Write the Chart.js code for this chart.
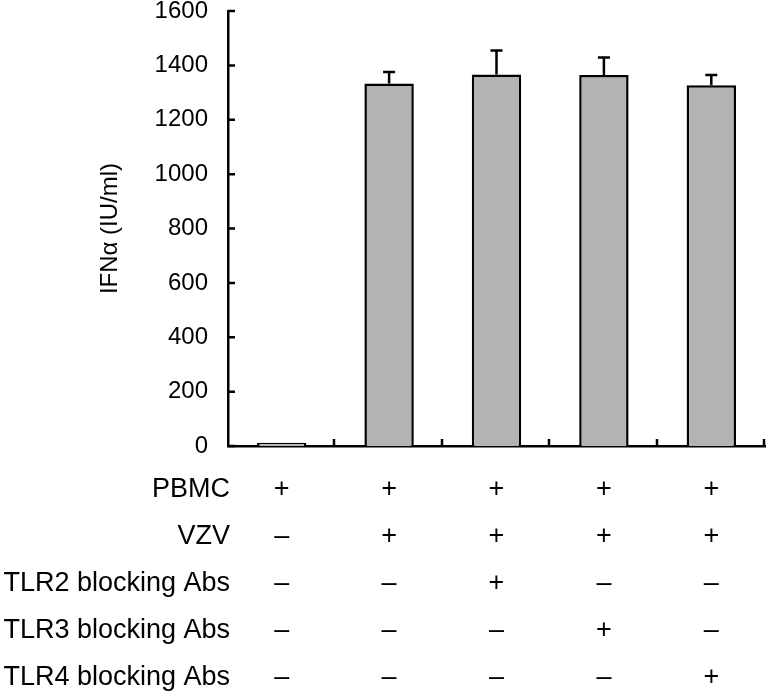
<!DOCTYPE html>
<html>
<head>
<meta charset="utf-8">
<script src="https://cdn.jsdelivr.net/npm/chart.js@4/dist/chart.umd.min.js"></script>
<style>
    body { margin: 0; background: #fff; }
    #wrap { width: 769px; height: 696px; position: relative; }
</style>
</head>
<body>
<div id="wrap"><canvas id="main_chart"></canvas></div>
<script>
// chart data
const groups = ["PBMC", "PBMC+VZV", "PBMC+VZV+TLR2 Abs", "PBMC+VZV+TLR3 Abs", "PBMC+VZV+TLR4 Abs"];
const ifnValues = [12, 1333, 1366, 1365, 1327];
const ifnErrors = [0, 43, 89, 64, 38];
const yTicks = [0, 200, 400, 600, 800, 1000, 1200, 1400, 1600];
// treatment table under the bars
const rowLabels = ["PBMC", "VZV", "TLR2 blocking Abs", "TLR3 blocking Abs", "TLR4 blocking Abs"];
const pbmcRow = ["+", "+", "+", "+", "+"];
const vzvRow = ["–", "+", "+", "+", "+"];
const tlr2Row = ["–", "–", "+", "–", "–"];
const tlr3Row = ["–", "–", "–", "+", "–"];
const tlr4Row = ["–", "–", "–", "–", "+"];
const rows = [pbmcRow, vzvRow, tlr2Row, tlr3Row, tlr4Row];

const FONT = "'Liberation Sans', Arial, sans-serif";
const rowH = 47;
const tablePad = 20;

// each category label is the column of +/– signs
const labels = groups.map((g, i) => rows.map(r => r[i]));

// error bars, inward ticks and row names
const extras = {
    id: "extras",
    afterDatasetsDraw(chart) {
        const ctx = chart.ctx;
        const x = chart.scales.x;
        const y = chart.scales.y;
        const meta = chart.getDatasetMeta(0);
        ctx.save();
        ctx.strokeStyle = "#000";
        ctx.lineWidth = 2.5;
        ctx.beginPath();
        meta.data.forEach((bar, i) => {
            if (!ifnErrors[i]) return;
            const top = y.getPixelForValue(ifnValues[i] + ifnErrors[i]);
            ctx.moveTo(bar.x, bar.y);
            ctx.lineTo(bar.x, top);
            ctx.moveTo(bar.x - 6, top);
            ctx.lineTo(bar.x + 6, top);
        });
        yTicks.forEach((v) => {
            const py = y.getPixelForValue(v);
            ctx.moveTo(x.left, py);
            ctx.lineTo(x.left + 7, py);
        });
        const w = (x.right - x.left) / groups.length;
        for (let i = 1; i <= groups.length; i++) {
            const px = Math.round(x.left + i * w) - 1;
            ctx.moveTo(px, y.bottom);
            ctx.lineTo(px, y.bottom - 7);
        }
        ctx.stroke();
        ctx.fillStyle = "#000";
        ctx.font = "27px " + FONT;
        ctx.textAlign = "right";
        ctx.textBaseline = "middle";
        rowLabels.forEach((t, i) => {
            ctx.fillText(t, x.left + 2, x.top + tablePad + rowH / 2 + i * rowH);
        });
        ctx.restore();
    }
};

let chart1 = new Chart(document.getElementById("main_chart"), {
    type: "bar",
    data: {
        labels: labels,
        datasets: [{
            data: ifnValues,
            backgroundColor: "#b3b3b3",
            borderColor: "#000",
            borderWidth: 2.5,
            barPercentage: 0.46,
            categoryPercentage: 1
        }]
    },
    options: {
        responsive: true,
        maintainAspectRatio: false,
        animation: false,
        layout: { padding: { top: 11, right: 4, left: 0, bottom: 0 } },
        plugins: {
            legend: { display: false },
            tooltip: { enabled: false }
        },
        scales: {
            x: {
                grid: { display: false, drawTicks: false },
                border: { display: true, color: "#000", width: 2.5 },
                ticks: {
                    color: "#000",
                    padding: tablePad,
                    maxRotation: 0,
                    autoSkip: false,
                    font: { family: FONT, size: 27, lineHeight: rowH / 27 }
                },
                afterFit: (s) => { s.height = 250; }
            },
            y: {
                min: 0,
                max: 1600,
                grid: { display: false, drawTicks: false },
                border: { display: true, color: "#000", width: 2.5 },
                afterBuildTicks: (s) => { s.ticks = yTicks.map(v => ({ value: v })); },
                ticks: {
                    color: "#000",
                    padding: 20,
                    font: { family: FONT, size: 24, lineHeight: 0.8 },
                    callback: (v) => String(v)
                },
                title: {
                    display: true,
                    text: "IFNα (IU/ml)",
                    color: "#000",
                    padding: { top: 96, bottom: 0 },
                    font: { family: FONT, size: 24 }
                },
                afterFit: (s) => {
                    s.width = 228;
                    s.paddingTop = 0;
                    s.paddingBottom = 0;
                }
            }
        }
    },
    plugins: [extras]
});
</script>
</body>
</html>
